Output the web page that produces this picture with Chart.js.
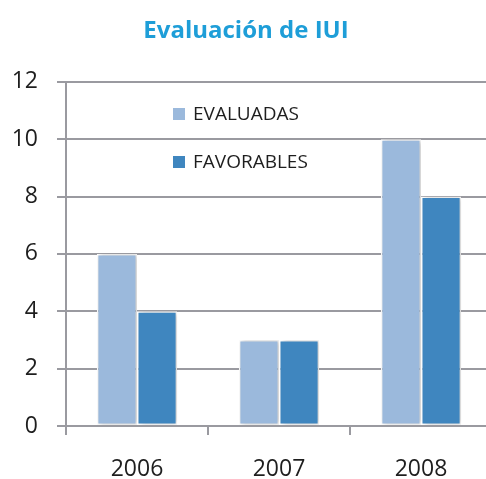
<!DOCTYPE html>
<html>
<head>
<meta charset="utf-8">
<script src="https://cdn.jsdelivr.net/npm/chart.js@4.4.1/dist/chart.umd.min.js"></script>
<style>
  html, body { margin: 0; padding: 0; overflow: hidden; background: #fff; width: 486px; height: 479px; }
  canvas { display: block; }
</style>
</head>
<body>
<canvas id="c" width="494" height="479"></canvas>
<script>
const categories = ['2006', '2007', '2008'];
const evaluadas = [6, 3, 10];
const favorables = [4, 3, 8];
const seriesLabels = ['EVALUADAS', 'FAVORABLES'];
const yTicks = [0, 2, 4, 6, 8, 10, 12];
const titleText = 'Evaluación de IUI';

const colors = ['#9BB9DC', '#3F86BF'];
const gridColor = '#9A9AA0';

const shadowPlugin = {
  id: 'barShadow',
  beforeDatasetsDraw(chart) {
    const ctx = chart.ctx;
    ctx.save();
    ctx.shadowColor = 'rgba(0,0,0,0.22)';
    ctx.shadowBlur = 5;
    ctx.shadowOffsetX = 2;
    ctx.shadowOffsetY = 0;
  },
  afterDatasetsDraw(chart) {
    chart.ctx.restore();
  }
};

const legendPlugin = {
  id: 'innerLegend',
  afterDraw(chart) {
    const ctx = chart.ctx;
    ctx.save();
    ctx.font = '19px "Open Sans"';
    ctx.textBaseline = 'middle';
    ctx.textAlign = 'left';
    const x = 173, ys = [114, 162];
    chart.data.datasets.forEach((ds, i) => {
      ctx.fillStyle = ds.backgroundColor;
      ctx.fillRect(x, ys[i] - 6, 12, 12);
      ctx.fillStyle = '#1E1E1E';
      ctx.fillText(ds.label, x + 20, ys[i] + 1);
    });
    ctx.restore();
  }
};

new Chart(document.getElementById('c'), {
  type: 'bar',
  data: {
    labels: categories,
    datasets: [
      { label: seriesLabels[0], data: evaluadas, backgroundColor: colors[0] },
      { label: seriesLabels[1], data: favorables, backgroundColor: colors[1] }
    ]
  },
  options: {
    responsive: false,
    animation: false,
    devicePixelRatio: 1,
    datasets: {
      bar: {
        categoryPercentage: 0.565,
        barPercentage: 1.0,
        borderColor: '#ffffff',
        borderWidth: 1.5,
        borderSkipped: false
      }
    },
    layout: { padding: { left: 0, right: 2, top: 0, bottom: 0 } },
    plugins: {
      legend: { display: false },
      tooltip: { enabled: false },
      title: {
        display: true,
        text: titleText,
        color: '#1E9ED8',
        font: { family: '"Open Sans"', size: 24, weight: 'bold', lineHeight: 1.2 },
        padding: { top: 17, bottom: 36 }
      }
    },
    scales: {
      x: {
        grid: {
          display: true,
          drawOnChartArea: false,
          drawTicks: true,
          tickLength: 9,
          offset: true,
          color: gridColor,
          lineWidth: 2
        },
        border: { display: true, color: gridColor, width: 2 },
        ticks: {
          color: '#1E1E1E',
          padding: 21,
          font: { family: '"Open Sans"', size: 23 }
        },
        afterFit(scale) { scale.height = 53; }
      },
      y: {
        min: 0,
        max: 12,
        afterBuildTicks(scale) { scale.ticks = yTicks.map(v => ({ value: v })); },
        grid: {
          display: true,
          drawTicks: true,
          tickLength: 9,
          color: gridColor,
          lineWidth: 2
        },
        border: { display: true, color: gridColor, width: 2 },
        ticks: {
          color: '#1E1E1E',
          padding: 19,
          font: { family: '"Open Sans"', size: 23 }
        },
        afterFit(scale) { scale.width = 66; }
      }
    }
  },
  plugins: [shadowPlugin, legendPlugin]
});
</script>
</body>
</html>
